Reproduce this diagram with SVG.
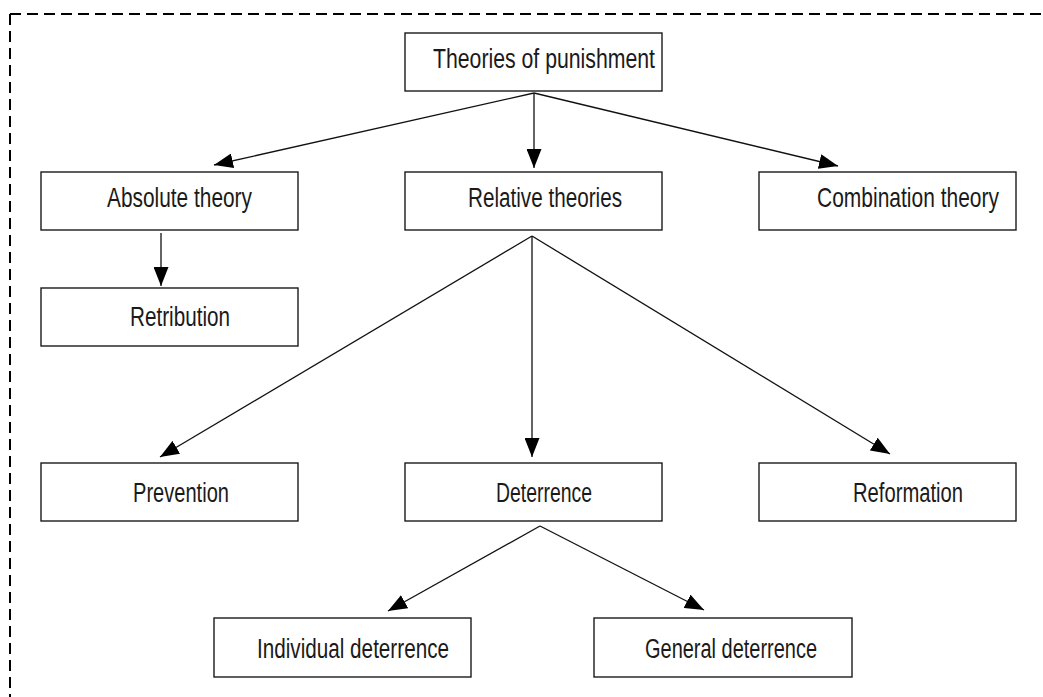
<svg xmlns="http://www.w3.org/2000/svg" width="1043" height="697" viewBox="0 0 1043 697">
  <style>
    .box { fill: #ffffff; stroke: #1a1a1a; stroke-width: 1.4; }
    .lbl { font-family: "Liberation Sans", Arial, sans-serif; font-size: 27px; fill: #1a1a1a; }
    .conn { stroke: #111111; stroke-width: 1.3; fill: none; }
    .frame { stroke: #000000; stroke-width: 2; fill: none; stroke-dasharray: 11 6; }
  </style>
  <defs>
    <marker id="arrow" viewBox="0 0 19 15" refX="19" refY="7.5" markerWidth="19" markerHeight="15" markerUnits="userSpaceOnUse" orient="auto">
      <path d="M0,0 L19,7.5 L0,15 Z" fill="#000000"/>
    </marker>
  </defs>
  <rect width="1043" height="697" fill="#ffffff"/>
  <path class="frame" d="M10,14 L1043,14 M10,14 L10,697"/>

  <g id="connectors">
    <line class="conn" x1="534" y1="93" x2="214" y2="165" marker-end="url(#arrow)"/>
    <line class="conn" x1="534" y1="93" x2="534" y2="168" marker-end="url(#arrow)"/>
    <line class="conn" x1="534" y1="93" x2="838" y2="166" marker-end="url(#arrow)"/>
    <line class="conn" x1="161" y1="233" x2="161" y2="286" marker-end="url(#arrow)"/>
    <line class="conn" x1="532" y1="236" x2="160" y2="457" marker-end="url(#arrow)"/>
    <line class="conn" x1="532" y1="236" x2="532" y2="457" marker-end="url(#arrow)"/>
    <line class="conn" x1="532" y1="236" x2="890" y2="454" marker-end="url(#arrow)"/>
    <line class="conn" x1="540" y1="526" x2="388" y2="611" marker-end="url(#arrow)"/>
    <line class="conn" x1="540" y1="526" x2="704" y2="610" marker-end="url(#arrow)"/>
  </g>

  <g id="theories">
    <rect class="box" x="405" y="33" width="257" height="58"/>
    <text class="lbl" x="433" y="68" textLength="222" lengthAdjust="spacingAndGlyphs">Theories of punishment</text>
  </g>
  <g id="absolute">
    <rect class="box" x="41" y="172" width="257" height="58"/>
    <text class="lbl" x="107" y="207" textLength="145" lengthAdjust="spacingAndGlyphs">Absolute theory</text>
  </g>
  <g id="relative">
    <rect class="box" x="405" y="172" width="257" height="58"/>
    <text class="lbl" x="468" y="207" textLength="154" lengthAdjust="spacingAndGlyphs">Relative theories</text>
  </g>
  <g id="combination">
    <rect class="box" x="759" y="172" width="257" height="58"/>
    <text class="lbl" transform="translate(817,207) scale(0.8,1)" x="0" y="0" textLength="227.5" lengthAdjust="spacingAndGlyphs">Combination theory</text>
  </g>
  <g id="retribution">
    <rect class="box" x="41" y="288" width="257" height="58"/>
    <text class="lbl" x="130" y="326" textLength="100" lengthAdjust="spacingAndGlyphs">Retribution</text>
  </g>
  <g id="prevention">
    <rect class="box" x="41" y="463" width="257" height="58"/>
    <text class="lbl" x="133" y="502" textLength="96" lengthAdjust="spacingAndGlyphs">Prevention</text>
  </g>
  <g id="deterrence">
    <rect class="box" x="405" y="463" width="257" height="58"/>
    <text class="lbl" x="496" y="502" textLength="96" lengthAdjust="spacingAndGlyphs">Deterrence</text>
  </g>
  <g id="reformation">
    <rect class="box" x="759" y="463" width="257" height="58"/>
    <text class="lbl" x="853" y="502" textLength="110" lengthAdjust="spacingAndGlyphs">Reformation</text>
  </g>
  <g id="individual">
    <rect class="box" x="214" y="618" width="257" height="59"/>
    <text class="lbl" x="257" y="658" textLength="192" lengthAdjust="spacingAndGlyphs">Individual deterrence</text>
  </g>
  <g id="general">
    <rect class="box" x="594" y="618" width="258" height="59"/>
    <text class="lbl" x="645" y="658" textLength="172" lengthAdjust="spacingAndGlyphs">General deterrence</text>
  </g>
</svg>
